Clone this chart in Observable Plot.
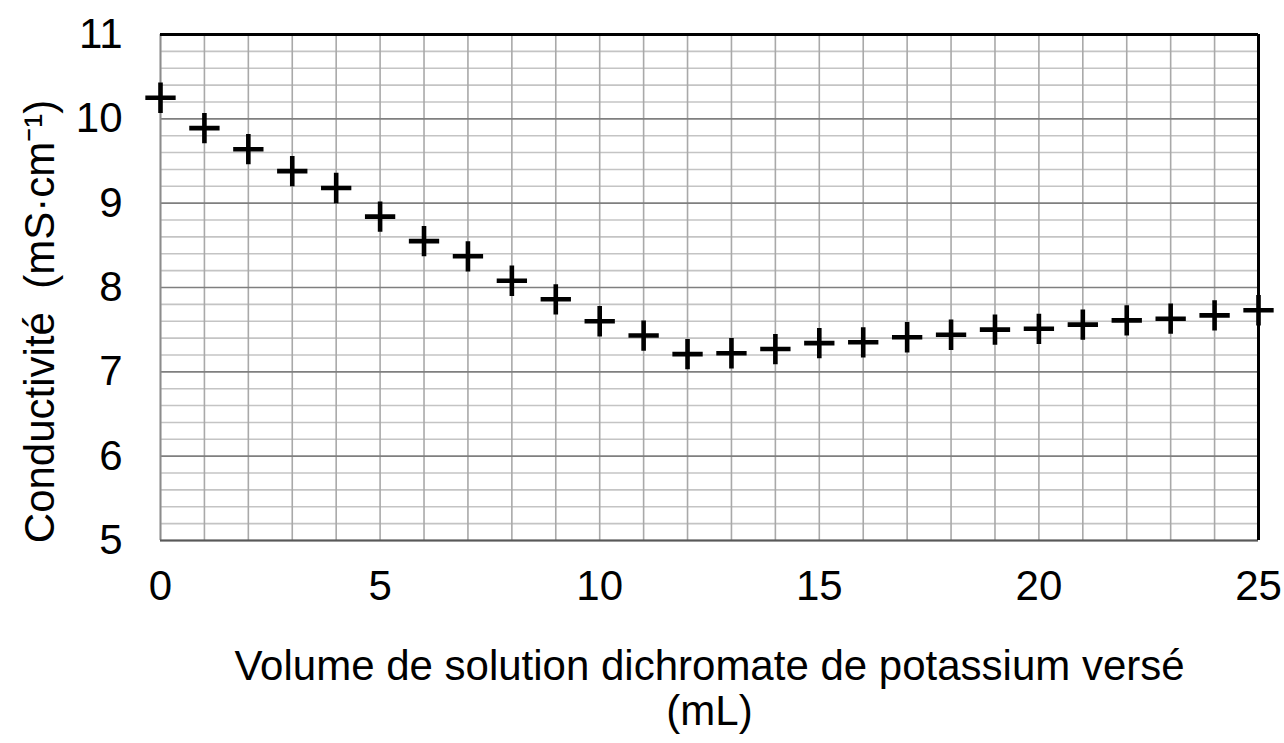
<!DOCTYPE html>
<html>
<head>
<meta charset="utf-8">
<script src="https://cdn.jsdelivr.net/npm/d3@7"></script>
<script src="https://cdn.jsdelivr.net/npm/@observablehq/plot@0.6"></script>
<style>
  html, body { margin: 0; padding: 0; background: #fff; }
</style>
</head>
<body>
<div id="chart"></div>
<script>
// Data
const volume = [0, 1, 2, 3, 4, 5, 6, 7, 8, 9, 10, 11, 12, 13, 14, 15, 16, 17, 18, 19, 20, 21, 22, 23, 24, 25];
const conductivity = [10.25, 9.89, 9.64, 9.38, 9.18, 8.84, 8.55, 8.37, 8.08, 7.86, 7.60, 7.43, 7.21, 7.22, 7.27, 7.34, 7.35, 7.41, 7.44, 7.50, 7.51, 7.56, 7.61, 7.63, 7.67, 7.73];
const xTicks = [0, 5, 10, 15, 20, 25];
const yTicks = [5, 6, 7, 8, 9, 10, 11];
const xLabel = "Volume de solution dichromate de potassium versé";
const xLabel2 = "(mL)";
const yLabel = "Conductivité\u00a0 (mS·cm⁻¹)";

const points = volume.map((v, i) => ({v, c: conductivity[i]}));
const xGrid = d3.range(0, 26, 1);
const yMinor = d3.range(0, 31).map(i => 5 + i * 0.2).filter(v => Math.abs(v - Math.round(v)) > 1e-6);

const chart = Plot.plot({
  width: 1284,
  height: 743,
  marginLeft: 160,
  marginRight: 26,
  marginTop: 34,
  marginBottom: 203,
  style: {fontFamily: "'Liberation Sans', Arial, sans-serif", fontSize: "42px", color: "#000", background: "#fff"},
  x: {domain: [0, 25], ticks: xTicks, tickFormat: d3.format("d"), tickSize: 0, tickPadding: 30, label: null},
  y: {domain: [5, 11], ticks: yTicks, tickFormat: d3.format("d"), tickSize: 0, tickPadding: 38, label: null},
  marks: [
    Plot.ruleY(yMinor, {stroke: "#c4c4c4", strokeWidth: 1.6}),
    Plot.ruleX(xGrid, {stroke: "#a9a9a9", strokeWidth: 1.6}),
    Plot.ruleY(yTicks, {stroke: "#7f7f7f", strokeWidth: 1.6}),
    Plot.ruleX([0], {stroke: "#8c8c8c", strokeWidth: 1.8}),
    Plot.ruleY([5], {stroke: "#595959", strokeWidth: 2}),
    Plot.ruleY([11], {stroke: "#000", strokeWidth: 3}),
    Plot.ruleX([25], {stroke: "#000", strokeWidth: 3}),
    Plot.dot(points, {x: "v", y: "c", symbol: "plus", r: 9.8, stroke: "#000", strokeWidth: 4.6}),
    Plot.text([xLabel + "\n" + xLabel2], {frameAnchor: "bottom", dy: 184, lineHeight: 1.05, fontSize: 42}),
    Plot.text([yLabel], {frameAnchor: "left", textAnchor: "middle", dx: -120, dy: 34, rotate: -90, fontSize: 42})
  ]
});
document.getElementById("chart").appendChild(chart);
</script>
</body>
</html>
